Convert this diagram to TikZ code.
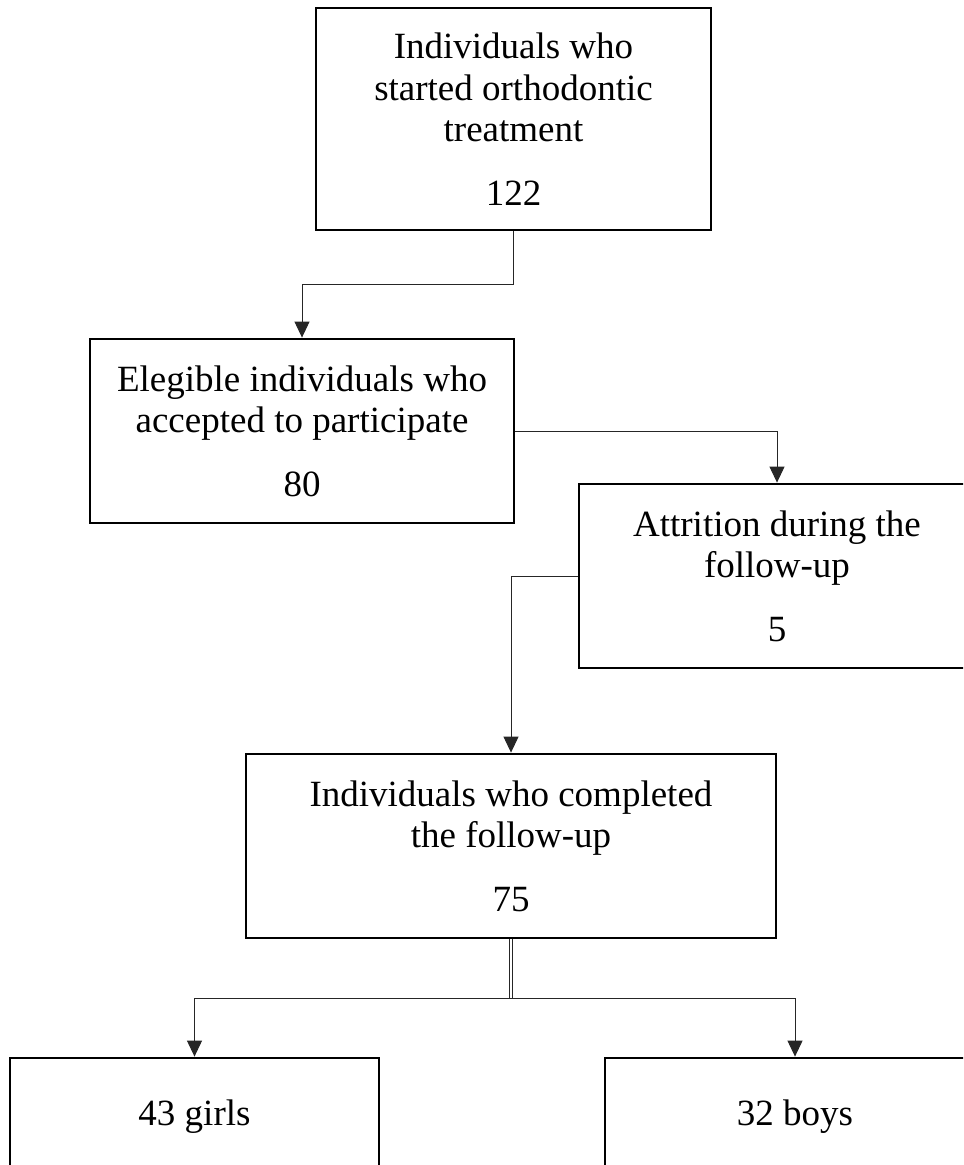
\documentclass[tikz,border=0pt]{standalone}
\usepackage{fontspec}
\setmainfont{Liberation Serif}
\usetikzlibrary{arrows.meta}

\tikzset{
  box/.style = {draw, line width=1.4pt, align=center, inner sep=0pt,
    font=\fontsize{18.5}{20.75}\selectfont},
  link/.style = {draw=black!85, line width=0.5pt,
    -{Triangle[length=8pt, width=7.5pt]}},
}

\begin{document}
\begin{tikzpicture}[x = 0.5pt, y = -0.5pt]
        \clip (0, 0) rectangle (963, 1165);

        \node[box, minimum width = 197.5pt, minimum height = 111pt] (start) at (513.5, 119)
          {Individuals who\\ started orthodontic\\ treatment\\[11pt] 122};
        \node[box, minimum width = 212pt, minimum height = 92pt] (elig) at (302, 431)
          {Elegible individuals who\\ accepted to participate\\[11pt] 80};
        \node[box, minimum width = 198pt, minimum height = 92pt] (attr) at (777, 576)
          {Attrition during the\\ follow-up\\[11pt] 5};
        \node[box, minimum width = 265pt, minimum height = 92pt] (done) at (511, 846)
          {Individuals who completed\\ the follow-up\\[11pt] 75};
        \node[box, minimum width = 184.5pt, minimum height = 59pt] (girls) at (194.5, 1117)
          {43 girls};
        \node[box, minimum width = 190pt, minimum height = 59pt] (boys) at (795, 1117)
          {32 boys};

        \coordinate (bend) at (0, 285);
        \coordinate (split) at (0, 998);

        \draw[link] (start.south) -- (start.south |- bend) -| (elig.north);
        \draw[link] (elig.east) -| (attr.north);
        \draw[link] (attr.west) -| (done.north);

        \draw[draw = black!85, double, double distance = 1.2pt, line width = 0.5pt]
          (done.south) -- (done.south |- split);
        \draw[link] (done.south |- split) -| (girls.north);
        \draw[link] (done.south |- split) -| (boys.north);
      \end{tikzpicture}
\end{document}
